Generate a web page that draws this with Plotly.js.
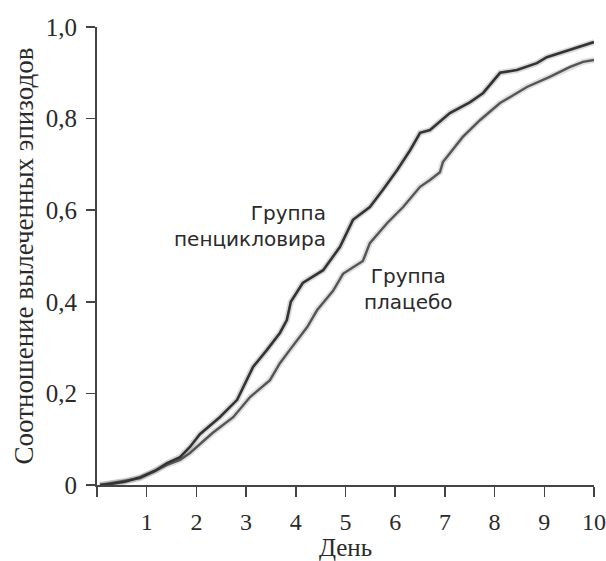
<!DOCTYPE html>
<html>
<head>
<meta charset="utf-8">
<script src="https://cdn.plot.ly/plotly-3.0.1.min.js"></script>
<style>html,body{margin:0;padding:0;background:#fff;}#chart{width:606px;height:561px;}</style>
</head>
<body>
<div id="chart"></div>
<script>
// Group: penciclovir (upper curve)
const pencDays = [0.06,0.26,0.56,0.87,1.17,1.41,1.67,1.87,2.07,2.47,2.82,2.94,3.14,3.42,3.68,3.82,3.90,4.14,4.55,4.89,5.15,5.49,5.75,6.04,6.30,6.50,6.70,7.10,7.51,7.77,8.11,8.45,8.85,9.05,9.52,10.0];
const pencVals = [0,0.002,0.007,0.017,0.031,0.048,0.061,0.083,0.111,0.148,0.186,0.214,0.258,0.295,0.332,0.360,0.400,0.441,0.469,0.520,0.579,0.607,0.644,0.688,0.731,0.769,0.775,0.812,0.836,0.856,0.900,0.906,0.921,0.934,0.950,0.967];
// Group: placebo (lower curve)
const placDays = [0.06,0.87,1.41,1.67,1.87,2.33,2.74,3.08,3.48,3.68,3.88,4.23,4.43,4.75,4.95,5.35,5.49,5.84,6.16,6.50,6.70,6.90,6.96,7.36,7.71,8.11,8.65,9.11,9.52,9.78,10.0];
const placVals = [0,0.015,0.044,0.055,0.070,0.114,0.148,0.192,0.229,0.266,0.295,0.345,0.382,0.424,0.461,0.489,0.528,0.572,0.607,0.651,0.666,0.683,0.705,0.760,0.797,0.834,0.869,0.891,0.913,0.924,0.928];

const xTickVals = [0,1,2,3,4,5,6,7,8,9,10];
const xTickText = ['','1','2','3','4','5','6','7','8','9','10'];
const yTickVals = [0,0.2,0.4,0.6,0.8,1.0];
const yTickText = ['0','0,2','0,4','0,6','0,8','1,0'];

const labelPenc = 'Группа<br>пенцикловира';
const labelPlac = 'Группа<br>плацебо';
const xTitle = 'День';
const yTitle = 'Соотношение вылеченных эпизодов';

const serif = '"Liberation Serif", "DejaVu Serif", serif';
const sans = '"DejaVu Sans", "Noto Sans", sans-serif';

const traces = [
  {x: placDays, y: placVals, mode: 'lines', line: {color: 'rgba(80,80,80,0.18)', width: 6}, hoverinfo: 'skip'},
  {x: pencDays, y: pencVals, mode: 'lines', line: {color: 'rgba(40,40,40,0.18)', width: 6}, hoverinfo: 'skip'},
  {x: placDays, y: placVals, mode: 'lines', line: {color: '#555555', width: 2.4}, hoverinfo: 'skip'},
  {x: pencDays, y: pencVals, mode: 'lines', line: {color: '#333333', width: 2.6}, hoverinfo: 'skip'}
];

const layout = {
  width: 606, height: 561,
  margin: {l: 97, r: 12, t: 27, b: 76},
  paper_bgcolor: '#ffffff', plot_bgcolor: '#ffffff',
  showlegend: false,
  font: {family: serif, color: '#2a2a2a', size: 24},
  xaxis: {
    range: [0, 10], tickvals: xTickVals, ticktext: xTickText,
    ticks: 'outside', ticklen: 10, tickwidth: 1.5, tickcolor: '#444',
    showline: true, linecolor: '#444', linewidth: 2, showgrid: false, zeroline: false,
    ticklabelstandoff: 4, ticklabeloverflow: 'allow',
    tickfont: {family: serif, size: 24, color: '#2a2a2a'},
    title: {text: xTitle, font: {family: serif, size: 25, color: '#2a2a2a'}, standoff: 4}
  },
  yaxis: {
    range: [0, 1], tickvals: yTickVals, ticktext: yTickText,
    ticks: 'outside', ticklen: 9, tickwidth: 1.5, tickcolor: '#444',
    showline: true, linecolor: '#444', linewidth: 2, showgrid: false, zeroline: false,
    ticklabelstandoff: 4, ticklabeloverflow: 'allow',
    tickfont: {family: serif, size: 25, color: '#2a2a2a'},
    title: {text: yTitle, font: {family: serif, size: 27, color: '#2a2a2a'}, standoff: 4}
  },
  annotations: [
    {x: 4.64, y: 0.566, xref: 'x', yref: 'y', text: labelPenc, showarrow: false,
     xanchor: 'right', yanchor: 'middle', align: 'right',
     font: {family: sans, size: 20, color: '#2a2a2a'}},
    {x: 6.26, y: 0.428, xref: 'x', yref: 'y', text: labelPlac, showarrow: false,
     xanchor: 'center', yanchor: 'middle', align: 'center',
     font: {family: sans, size: 20, color: '#2a2a2a'}}
  ]
};

Plotly.newPlot('chart', traces, layout, {displayModeBar: false, staticPlot: true});
</script>
</body>
</html>
